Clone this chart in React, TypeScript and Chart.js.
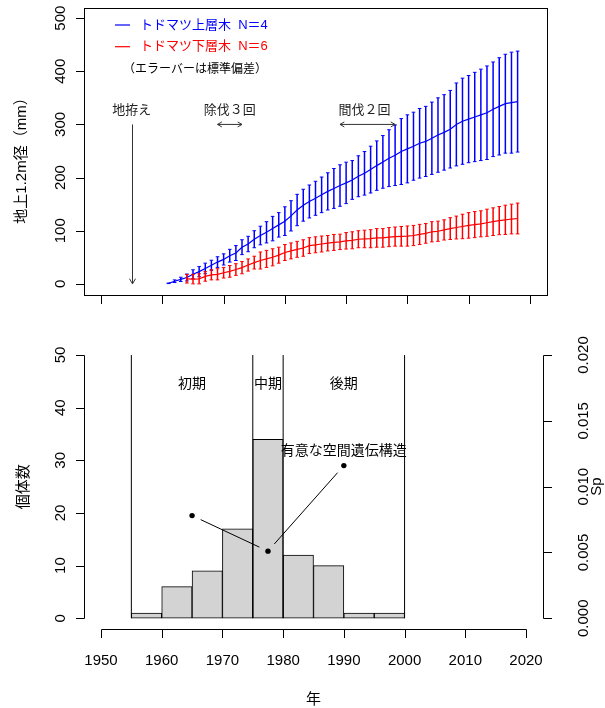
import React, { useEffect, useRef } from "react";
import { Chart, registerables } from "chart.js";
Chart.register(...registerables);

// ---------------- DATA ----------------
const upperYears = [1961, 1962, 1963, 1964, 1965, 1966, 1967, 1968, 1969, 1970, 1971, 1972, 1973, 1974, 1975, 1976, 1977, 1978, 1979, 1980, 1981, 1982, 1983, 1984, 1985, 1986, 1987, 1988, 1989, 1990, 1991, 1992, 1993, 1994, 1995, 1996, 1997, 1998, 1999, 2000, 2001, 2002, 2003, 2004, 2005, 2006, 2007, 2008, 2009, 2010, 2011, 2012, 2013, 2014, 2015, 2016, 2017, 2018];
const upperMean = [1, 5, 8.5, 12, 18, 23, 29, 35, 41, 46, 53, 58, 69, 75, 84, 91, 97, 104, 111, 118, 128, 139, 148, 155, 161, 167.5, 174, 179.5, 185, 190, 195.5, 202.5, 208, 215, 222.5, 229.5, 236.5, 242, 249, 254, 259, 264.5, 268, 274, 280, 285, 291, 300, 306, 310, 314, 318, 322, 328.5, 334, 339, 341, 343];
const upperSD = [0.5, 2.5, 4, 6.5, 8.5, 9.5, 10, 9.5, 10, 10.5, 12, 14, 14, 14.5, 16, 17.5, 20, 23, 23, 27, 28.5, 29.5, 30, 31, 32, 33.5, 35, 37.5, 39, 39, 36.5, 38.5, 41, 44, 46.5, 49.5, 53.5, 57, 62, 64, 64, 65.5, 66, 68, 70, 71, 73, 78, 81, 82, 84, 86, 88, 89, 91.5, 93, 95, 95];

const lowerYears = [1964, 1965, 1966, 1967, 1968, 1969, 1970, 1971, 1972, 1973, 1974, 1975, 1976, 1977, 1978, 1979, 1980, 1981, 1982, 1983, 1984, 1985, 1986, 1987, 1988, 1989, 1990, 1991, 1992, 1993, 1994, 1995, 1996, 1997, 1998, 1999, 2000, 2001, 2002, 2003, 2004, 2005, 2006, 2007, 2008, 2009, 2010, 2011, 2012, 2013, 2014, 2015, 2016, 2017, 2018];
const lowerMean = [9.5, 9, 9.5, 14, 17, 18, 21, 23.5, 27, 30.5, 35.5, 40, 44, 47, 50, 54, 59, 62, 65, 67.5, 72, 73.5, 75, 76.5, 78, 79, 81, 82, 84, 84.5, 85, 86.5, 86.5, 88, 89, 89.5, 90, 91, 93, 95, 98, 99, 101.5, 104, 106, 108, 110, 111.5, 113, 115, 117, 119, 120.5, 122, 123];
const lowerSD = [8, 9, 9.5, 9, 9.5, 10.5, 10, 11, 11, 11.5, 11.5, 12, 16, 16, 16, 15, 15, 15, 15, 15.5, 15, 15, 15, 14.5, 15, 14.5, 15.5, 16, 16, 16.5, 17, 17.5, 17.5, 18, 18, 18.5, 19, 19, 19, 18.5, 19, 19, 19, 20.5, 21.5, 23, 24, 24.5, 24.5, 25.5, 26, 26.5, 27.5, 28, 29];

const legendLabels = ["トドマツ上層木  N＝4", "トドマツ下層木  N＝6"];
const legendNote = "（エラーバーは標準偏差）";

const histBinStarts = [1955, 1960, 1965, 1970, 1975, 1980, 1985, 1990, 1995];
const histCounts = [1, 6, 9, 17, 34, 12, 10, 1, 1];
const periodBounds = [1955, 1975, 1980, 2000];
const periodLabels = ["初期", "中期", "後期"];

const spYears = [1965, 1977.5, 1990];
const spValues = [0.0078, 0.0051, 0.0116];

const xTicks = [1950, 1960, 1970, 1980, 1990, 2000, 2010, 2020];
const xTickLabels = ["1950", "1960", "1970", "1980", "1990", "2000", "2010", "2020"];
const yTicksTop = [0, 100, 200, 300, 400, 500];
const yTickLabelsTop = ["0", "100", "200", "300", "400", "500"];
const yTicksCount = [0, 10, 20, 30, 40, 50];
const yTickLabelsCount = ["0", "10", "20", "30", "40", "50"];
const yTicksSp = [0, 0.005, 0.01, 0.015, 0.02];
const yTickLabelsSp = ["0.000", "0.005", "0.010", "0.015", "0.020"];

// ---------------- HELPERS ----------------
const NUM = "'Liberation Sans', Arial, sans-serif";
const MIX = "'Liberation Sans', 'Noto Sans CJK JP', sans-serif";
const JP = "'Noto Sans CJK JP', sans-serif";
const BLUE = "#0000ff";
const RED = "#ff0000";

const px = (v: number) => Math.round(v) + 0.5;

function rotText(ctx: CanvasRenderingContext2D, text: string, x: number, y: number, font: string, color = "#000") {
  ctx.save();
  ctx.translate(x, y);
  ctx.rotate(-Math.PI / 2);
  ctx.font = font;
  ctx.fillStyle = color;
  ctx.textAlign = "center";
  ctx.textBaseline = "middle";
  ctx.fillText(text, 0, 0);
  ctx.restore();
}

function text(ctx: CanvasRenderingContext2D, t: string, x: number, y: number, font: string, color = "#000", align: CanvasTextAlign = "center") {
  ctx.font = font;
  ctx.fillStyle = color;
  ctx.textAlign = align;
  ctx.textBaseline = "middle";
  ctx.fillText(t, x, y);
}

function arrowHead(ctx: CanvasRenderingContext2D, x: number, y: number, ang: number, len = 6) {
  const a = Math.PI / 6;
  ctx.beginPath();
  ctx.moveTo(x - len * Math.cos(ang - a), y - len * Math.sin(ang - a));
  ctx.lineTo(x, y);
  ctx.lineTo(x - len * Math.cos(ang + a), y - len * Math.sin(ang + a));
  ctx.stroke();
}

function seg(ctx: CanvasRenderingContext2D, x1: number, y1: number, x2: number, y2: number) {
  ctx.beginPath();
  ctx.moveTo(x1, y1);
  ctx.lineTo(x2, y2);
  ctx.stroke();
}

const barSegments = (years: number[], lo: number[], hi: number[]) =>
  years.flatMap((yr, i) => [{ x: yr, y: lo[i] }, { x: yr, y: hi[i] }, { x: yr, y: null as any }]);
const capPoints = (years: number[], lo: number[], hi: number[]) =>
  years.flatMap((yr, i) => [{ x: yr, y: lo[i] }, { x: yr, y: hi[i] }]);

// ---------------- PLUGINS ----------------
const topDecor = {
  id: "topDecor",
  afterDraw(chart: any) {
    const { ctx, chartArea: a, scales } = chart;
    const x = scales.x, y = scales.y;
    ctx.save();
    ctx.strokeStyle = "#000";
    ctx.lineWidth = 1;
    ctx.strokeRect(px(a.left), px(a.top), Math.round(a.right - a.left), Math.round(a.bottom - a.top));
    // left axis
    yTicksTop.forEach((v, i) => {
      const yy = px(y.getPixelForValue(v));
      seg(ctx, px(a.left), yy, px(a.left) - 8.5, yy);
      rotText(ctx, yTickLabelsTop[i], 61, y.getPixelForValue(v), "15px " + NUM);
    });
    // bottom axis ticks (no labels)
    seg(ctx, px(x.getPixelForValue(xTicks[0])), px(a.bottom), px(x.getPixelForValue(xTicks[xTicks.length - 1])), px(a.bottom));
    xTicks.forEach((v) => {
      const xx = px(x.getPixelForValue(v));
      seg(ctx, xx, px(a.bottom), xx, px(a.bottom) + 8.5);
    });
    rotText(ctx, "地上1.2m径（mm）", 22, (a.top + a.bottom) / 2 + 6, "15px " + MIX);

    // legend
    const colors = [BLUE, RED];
    legendLabels.forEach((lab, i) => {
      const ly = a.top + 17.5 + i * 21.7;
      ctx.strokeStyle = colors[i];
      ctx.lineWidth = 1.2;
      seg(ctx, a.left + 31, ly, a.left + 46, ly);
      text(ctx, lab, a.left + 56, ly, "13px " + MIX, colors[i], "left");
    });
    text(ctx, legendNote, a.left + 39, a.top + 61, "12px " + JP, "#000", "left");

    // annotations
    ctx.strokeStyle = "#333";
    ctx.lineWidth = 1;
    const aY = y.getPixelForValue(300);
    const tY = y.getPixelForValue(328);
    // 地拵え
    const x55 = px(x.getPixelForValue(1955));
    seg(ctx, x55, aY, x55, y.getPixelForValue(0));
    arrowHead(ctx, x55, y.getPixelForValue(0), Math.PI / 2, 6);
    text(ctx, "地拵え", x.getPixelForValue(1955), tY, "13px " + JP, "#222");
    // 除伐３回
    const dbl = (x1: number, x2: number) => {
      const p1 = x.getPixelForValue(x1), p2 = x.getPixelForValue(x2);
      seg(ctx, p1, aY, p2, aY);
      arrowHead(ctx, p1, aY, Math.PI, 5);
      arrowHead(ctx, p2, aY, 0, 5);
    };
    dbl(1969, 1973);
    text(ctx, "除伐３回", x.getPixelForValue(1971), tY, "13px " + JP, "#222");
    dbl(1989, 1998);
    text(ctx, "間伐２回", x.getPixelForValue(1993), tY, "13px " + JP, "#222");
    ctx.restore();
  },
};

const bottomDecor = {
  id: "bottomDecor",
  afterDraw(chart: any) {
    const { ctx, chartArea: a, scales } = chart;
    const x = scales.x, y = scales.y, y2 = scales.y2;
    ctx.save();
    ctx.strokeStyle = "#000";
    ctx.lineWidth = 1;
    // left axis
    const lx = px(a.left);
    seg(ctx, lx, px(y.getPixelForValue(yTicksCount[0])), lx, px(y.getPixelForValue(yTicksCount[yTicksCount.length - 1])));
    yTicksCount.forEach((v, i) => {
      const yy = px(y.getPixelForValue(v));
      seg(ctx, lx, yy, lx - 8.5, yy);
      rotText(ctx, yTickLabelsCount[i], 61, y.getPixelForValue(v), "15px " + NUM);
    });
    rotText(ctx, "個体数", 22, y.getPixelForValue(25), "15px " + JP);
    // right axis
    const rx = px(a.right);
    seg(ctx, rx, px(y2.getPixelForValue(yTicksSp[0])), rx, px(y2.getPixelForValue(yTicksSp[yTicksSp.length - 1])));
    yTicksSp.forEach((v, i) => {
      const yy = px(y2.getPixelForValue(v));
      seg(ctx, rx, yy, rx + 8.5, yy);
      rotText(ctx, yTickLabelsSp[i], 584, y2.getPixelForValue(v), "15px " + NUM);
    });
    rotText(ctx, "Sp", 597, y2.getPixelForValue(0.01), "15px " + NUM);
    // bottom axis
    const by = px(a.bottom);
    seg(ctx, px(x.getPixelForValue(xTicks[0])), by, px(x.getPixelForValue(xTicks[xTicks.length - 1])), by);
    xTicks.forEach((v, i) => {
      const xx = px(x.getPixelForValue(v));
      seg(ctx, xx, by, xx, by + 8.5);
      text(ctx, xTickLabels[i], x.getPixelForValue(v), by + 31, "15px " + NUM);
    });
    text(ctx, "年", x.getPixelForValue(1985), by + 69, "15px " + JP);

    // period labels
    periodLabels.forEach((lab, i) => {
      const cx = (periodBounds[i] + periodBounds[i + 1]) / 2;
      text(ctx, lab, x.getPixelForValue(cx), y.getPixelForValue(44.7), "14px " + JP);
    });
    text(ctx, "有意な空間遺伝構造", x.getPixelForValue(1990), y.getPixelForValue(32.1), "14px " + JP);

    // type="b" connecting lines with gaps
    const meta = chart.getDatasetMeta(2);
    const pts = meta.data;
    const gap = 9.5;
    for (let i = 0; i < pts.length - 1; i++) {
      const p = pts[i], q = pts[i + 1];
      const dx = q.x - p.x, dy = q.y - p.y;
      const d = Math.hypot(dx, dy);
      const ux = dx / d, uy = dy / d;
      seg(ctx, p.x + ux * gap, p.y + uy * gap, q.x - ux * gap, q.y - uy * gap);
    }
    ctx.restore();
  },
};

// ---------------- COMPONENT ----------------
export default function App() {
  const topRef = useRef<HTMLCanvasElement>(null);
  const botRef = useRef<HTMLCanvasElement>(null);

  useEffect(() => {
    const upLo = upperMean.map((m, i) => m - upperSD[i]);
    const upHi = upperMean.map((m, i) => m + upperSD[i]);
    const loLo = lowerMean.map((m, i) => m - lowerSD[i]);
    const loHi = lowerMean.map((m, i) => m + lowerSD[i]);

    const xScale = {
      type: "linear",
      display: false,
      min: 1947.2,
      max: 2022.8,
      offset: false,
      afterBuildTicks: (s: any) => {
        s.ticks = xTicks.map((v) => ({ value: v }));
      },
    };

    const top = new Chart(topRef.current!, {
      type: "scatter",
      data: {
        datasets: [
          { type: "line", data: barSegments(upperYears, upLo, upHi), borderColor: BLUE, borderWidth: 1.5, pointRadius: 0, spanGaps: false, order: 6 } as any,
          { type: "scatter", data: capPoints(upperYears, upLo, upHi), pointStyle: "line", pointRadius: 1.8, borderColor: BLUE, borderWidth: 1, order: 5 } as any,
          { type: "line", data: upperYears.map((yr, i) => ({ x: yr, y: upperMean[i] })), borderColor: BLUE, borderWidth: 1.2, pointRadius: 0, order: 4 } as any,
          { type: "line", data: barSegments(lowerYears, loLo, loHi), borderColor: RED, borderWidth: 1.5, pointRadius: 0, spanGaps: false, order: 3 } as any,
          { type: "scatter", data: capPoints(lowerYears, loLo, loHi), pointStyle: "line", pointRadius: 1.8, borderColor: RED, borderWidth: 1, order: 2 } as any,
          { type: "line", data: lowerYears.map((yr, i) => ({ x: yr, y: lowerMean[i] })), borderColor: RED, borderWidth: 1.2, pointRadius: 0, order: 1 } as any,
        ],
      },
      options: {
        responsive: false,
        animation: false,
        events: [],
        layout: { padding: { left: 84, right: 58, top: 7.5, bottom: 25.5 } },
        plugins: { legend: { display: false }, tooltip: { enabled: false } },
        scales: {
          x: xScale as any,
          y: { type: "linear", display: false, min: -20, max: 520 },
        },
      },
      plugins: [topDecor],
    });

    const binW = histBinStarts[1] - histBinStarts[0];
    const bottom = new Chart(botRef.current!, {
      type: "scatter",
      data: {
        datasets: [
          {
            type: "bar",
            data: histBinStarts.map((s, i) => ({ x: s + binW / 2, y: histCounts[i] })),
            backgroundColor: "#d3d3d3",
            borderColor: "#000",
            borderWidth: 1,
            borderSkipped: false,
            barPercentage: 1,
            categoryPercentage: 1,
            yAxisID: "y",
            order: 3,
          } as any,
          {
            type: "line",
            data: periodBounds.flatMap((b) => [{ x: b, y: 0 }, { x: b, y: 50 }, { x: b, y: null as any }]),
            borderColor: "#000",
            borderWidth: 1,
            pointRadius: 0,
            spanGaps: false,
            yAxisID: "y",
            order: 2,
          } as any,
          {
            type: "scatter",
            data: spYears.map((yr, i) => ({ x: yr, y: spValues[i] })),
            pointRadius: 2.7,
            backgroundColor: "#000",
            borderWidth: 0,
            yAxisID: "y2",
            order: 1,
          } as any,
        ],
      },
      options: {
        responsive: false,
        animation: false,
        events: [],
        layout: { padding: { left: 84, right: 62, top: 24.5, bottom: 79.2 } },
        plugins: { legend: { display: false }, tooltip: { enabled: false } },
        scales: {
          x: xScale as any,
          y: { type: "linear", display: false, min: -2, max: 52 },
          y2: { type: "linear", display: false, position: "right", min: -0.0008, max: 0.0208 },
        },
      },
      plugins: [bottomDecor],
    });

    return () => {
      top.destroy();
      bottom.destroy();
    };
  }, []);

  return (
    <div style={{ position: "fixed", left: 0, top: 0, width: 605, height: 708, background: "#fff" }}>
      <canvas ref={topRef} width={605} height={320} style={{ position: "absolute", left: 0, top: 0, width: 605, height: 320 }} />
      <canvas ref={botRef} width={605} height={388} style={{ position: "absolute", left: 0, top: 320, width: 605, height: 388 }} />
    </div>
  );
}
